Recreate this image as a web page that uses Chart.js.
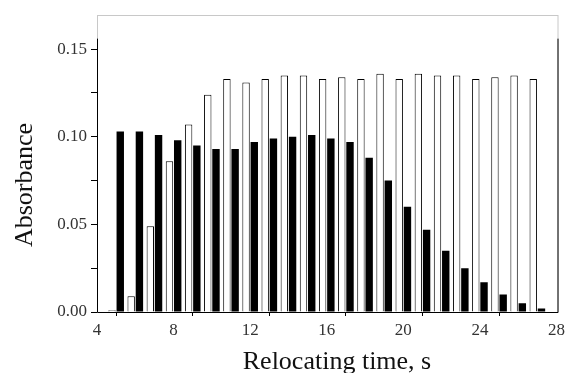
<!DOCTYPE html>
<html>
<head>
<meta charset="utf-8">
<script src="https://cdn.jsdelivr.net/npm/chart.js@4"></script>
<style>
    body { margin: 0; background: #fff; }
    #wrap { width: 569px; height: 373px; position: relative; }
</style>
</head>
<body>
<div id="wrap"><canvas id="absChart"></canvas></div>
<script>
// Relocating time (s) and absorbance for the two bar series
const times = [5, 6, 7, 8, 9, 10, 11, 12, 13, 14, 15, 16, 17, 18, 19, 20, 21, 22, 23, 24, 25, 26, 27];
const openBars = [0.001, 0.009, 0.049, 0.086, 0.107, 0.124, 0.133, 0.131, 0.133, 0.135, 0.135, 0.133,
                  0.134, 0.133, 0.136, 0.133, 0.136, 0.135, 0.135, 0.133, 0.134, 0.135, 0.133];
const solidBars = [0.103, 0.103, 0.101, 0.098, 0.095, 0.093, 0.093, 0.097, 0.099, 0.100, 0.101, 0.099,
                   0.097, 0.088, 0.075, 0.060, 0.047, 0.035, 0.025, 0.017, 0.010, 0.005, 0.002];
const xLabels = [4, 8, 12, 16, 20, 24, 28];
const yLabels = [0, 0.05, 0.10, 0.15];

const serif = "'Liberation Serif', 'Times New Roman', serif";

// Frame: grey box plus black axes, and the two axis titles
const framePlugin = {
    id: 'frame',
    afterDraw(chart) {
        const { ctx, chartArea: a, scales } = chart;
        const yTop = scales.y.getPixelForValue(0.156);
        ctx.save();
        ctx.strokeStyle = '#c8c8c8';
        ctx.lineWidth = 1;
        ctx.strokeRect(a.left + 0.5, a.top + 0.5, a.right - a.left + 1, a.bottom - a.top);
        ctx.strokeStyle = '#000';
        ctx.beginPath();
        ctx.moveTo(a.left + 0.5, yTop);
        ctx.lineTo(a.left + 0.5, a.bottom + 0.5);
        ctx.lineTo(a.right + 1.5, a.bottom + 0.5);
        ctx.lineTo(a.right + 1.5, yTop);
        ctx.stroke();

        ctx.fillStyle = '#111';
        ctx.font = '26px ' + serif;
        ctx.textAlign = 'center';
        ctx.textBaseline = 'alphabetic';
        ctx.fillText('Relocating time, s', 337, 369);

        ctx.translate(32, 185);
        ctx.rotate(-Math.PI / 2);
        ctx.fillText('Absorbance', 0, 0);
        ctx.restore();
    }
};

const isOn = (v, step) => Math.abs(v / step - Math.round(v / step)) < 1e-6;

new Chart(document.getElementById('absChart'), {
    type: 'bar',
    data: {
        datasets: [{
            data: times.map((t, i) => ({ x: t, y: openBars[i] })),
            backgroundColor: '#fff',
            borderColor: '#000',
            borderWidth: 1,
            categoryPercentage: 0.86,
            barPercentage: 0.9
        }, {
            data: times.map((t, i) => ({ x: t, y: solidBars[i] })),
            backgroundColor: '#000',
            borderWidth: 0,
            categoryPercentage: 0.86,
            barPercentage: 0.9
        }]
    },
    options: {
        responsive: true,
        maintainAspectRatio: false,
        animation: false,
        layout: { padding: { top: 15, right: 12, left: 0, bottom: 0 } },
        plugins: {
            legend: { display: false },
            tooltip: { enabled: false }
        },
        scales: {
            x: {
                type: 'linear',
                offset: false,
                min: 4,
                max: 28,
                afterFit: (s) => { s.height = 61; },
                border: { display: false },
                grid: {
                    drawOnChartArea: false,
                    tickLength: 4,
                    color: (c) => (c.tick && isOn(c.tick.value, 4)) ? 'rgba(0,0,0,0)' : '#000'
                },
                ticks: {
                    stepSize: 2,
                    padding: 4,
                    color: '#333',
                    font: { family: serif, size: 17 },
                    maxRotation: 0,
                    autoSkip: false,
                    callback: (v) => xLabels.includes(v) ? String(v) : ''
                }
            },
            y: {
                min: 0,
                max: 0.1695,
                afterFit: (s) => { s.width = 97; },
                afterBuildTicks: (s) => { s.ticks = s.ticks.filter(t => t.value <= 0.1501); },
                border: { display: false },
                grid: {
                    drawOnChartArea: false,
                    tickLength: 6,
                    color: '#000'
                },
                ticks: {
                    stepSize: 0.025,
                    padding: 4,
                    color: '#333',
                    font: { family: serif, size: 17 },
                    callback: (v) => yLabels.some(l => Math.abs(l - v) < 1e-6) ? v.toFixed(2) : ''
                }
            }
        }
    },
    plugins: [framePlugin]
});
</script>
</body>
</html>
